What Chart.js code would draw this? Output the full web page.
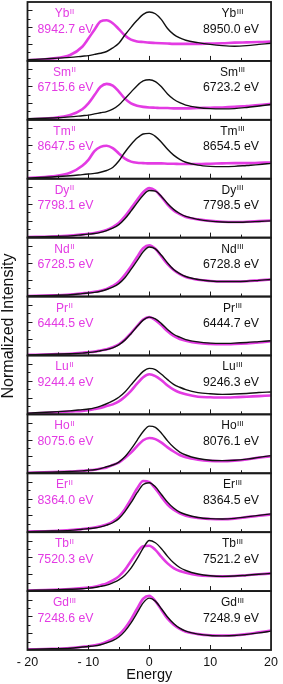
<!DOCTYPE html>
<html>
<head>
<meta charset="utf-8">
<script src="https://cdn.jsdelivr.net/npm/chart.js@4.4.1/dist/chart.umd.min.js"></script>
<style>
  html, body { margin: 0; padding: 0; background: #fff; }
  #wrap { width: 283px; height: 684px; }
</style>
</head>
<body>
<div id="wrap"><canvas id="xanesChart" width="283" height="684"></canvas></div>
<script>
// Energy grid (eV, relative to edge)
const energy = [-20, -16, -13, -11, -10, -9, -8, -7, -6, -5, -4, -3, -2, -1, 0, 1, 2, 3, 4, 5, 6, 8, 10, 12, 14, 16, 18, 20];

// Panels from top to bottom
const elements = ['Yb', 'Sm', 'Tm', 'Dy', 'Nd', 'Pr', 'Lu', 'Ho', 'Er', 'Tb', 'Gd'];
const chargeLeft = ['II', 'II', 'II', 'II', 'II', 'II', 'II', 'II', 'II', 'II', 'III'];
const edgeLeft = ['8942.7', '6715.6', '8647.5', '7798.1', '6728.5', '6444.5', '9244.4', '8075.6', '8364.0', '7520.3', '7248.6'];
const edgeRight = ['8950.0', '6723.2', '8654.5', '7798.5', '6728.8', '6444.7', '9246.3', '8076.1', '8364.5', '7521.2', '7248.9'];

// Normalized intensity (fraction of panel height), divalent (magenta) and trivalent (black)
const ybII  = [.01, .04, .10, .24, .38, .53, .67, .69, .64, .54, .43, .36, .33, .32, .31, .305, .30, .295, .29, .29, .29, .29, .295, .30, .31, .315, .32, .33];
const ybIII = [.02, .04, .06, .08, .09, .11, .13, .16, .22, .30, .44, .57, .69, .79, .83, .80, .70, .55, .45, .39, .35, .31, .28, .26, .25, .26, .28, .30];
const smII  = [.01, .03, .08, .18, .28, .42, .56, .61, .58, .48, .36, .28, .24, .22, .21, .205, .20, .20, .195, .195, .195, .20, .205, .21, .22, .235, .25, .27];
const smIII = [.02, .03, .05, .07, .08, .10, .12, .14, .18, .25, .36, .47, .58, .66, .68, .65, .56, .44, .35, .29, .25, .21, .19, .185, .19, .21, .235, .26];
const tmII  = [.01, .04, .10, .22, .32, .47, .54, .56, .52, .43, .34, .29, .27, .265, .26, .26, .26, .255, .255, .25, .25, .25, .255, .26, .265, .265, .27, .275];
const tmIII = [.01, .03, .05, .07, .08, .09, .11, .14, .19, .30, .45, .58, .69, .76, .77, .72, .62, .50, .40, .33, .28, .23, .21, .205, .21, .225, .24, .26];
const dyII  = [.01, .02, .035, .055, .065, .08, .10, .13, .18, .25, .36, .50, .64, .77, .84, .80, .69, .56, .46, .40, .35, .31, .285, .27, .265, .27, .28, .29];
const dyIII = [.01, .02, .03, .05, .06, .07, .09, .12, .16, .22, .32, .45, .59, .72, .80, .79, .70, .58, .48, .41, .36, .31, .28, .265, .26, .265, .275, .285];
const ndII  = [.01, .02, .035, .055, .065, .08, .10, .13, .18, .25, .37, .51, .67, .82, .87, .81, .68, .55, .45, .38, .33, .285, .265, .255, .255, .26, .275, .29];
const ndIII = [.01, .02, .03, .05, .06, .07, .09, .12, .16, .22, .32, .46, .61, .76, .84, .81, .70, .57, .46, .39, .34, .29, .265, .255, .255, .26, .275, .29];
const prII  = [.01, .02, .03, .045, .055, .065, .085, .105, .14, .19, .27, .38, .50, .61, .65, .60, .51, .41, .33, .28, .25, .21, .195, .19, .195, .205, .22, .24];
const prIII = [.01, .02, .03, .04, .05, .06, .08, .10, .13, .18, .26, .37, .49, .60, .65, .62, .54, .44, .36, .31, .27, .23, .21, .205, .21, .22, .235, .25];
const luII  = [.01, .03, .05, .06, .07, .09, .11, .14, .17, .22, .30, .40, .52, .63, .68, .65, .58, .49, .42, .37, .34, .30, .29, .285, .29, .30, .31, .32];
const luIII = [.02, .04, .06, .08, .09, .11, .14, .18, .23, .29, .38, .50, .62, .73, .78, .76, .68, .59, .51, .46, .42, .37, .35, .34, .345, .355, .37, .38];
const hoII  = [.01, .02, .03, .04, .05, .06, .08, .10, .14, .18, .26, .35, .46, .56, .60, .58, .52, .44, .37, .31, .27, .23, .21, .205, .215, .235, .265, .29];
const hoIII = [.01, .02, .03, .04, .05, .06, .08, .11, .14, .19, .28, .41, .56, .71, .80, .78, .68, .55, .44, .36, .31, .25, .22, .215, .22, .24, .27, .30];
const erII  = [.01, .02, .035, .055, .065, .08, .10, .13, .18, .26, .39, .56, .74, .87, .85, .74, .60, .47, .38, .32, .28, .24, .225, .22, .23, .255, .28, .30];
const erIII = [.01, .02, .03, .05, .06, .07, .09, .12, .16, .23, .35, .50, .67, .81, .84, .77, .64, .51, .41, .34, .30, .25, .23, .225, .235, .26, .285, .31];
const tbII  = [.01, .02, .035, .05, .06, .075, .10, .13, .18, .25, .36, .51, .66, .76, .77, .70, .58, .47, .39, .34, .31, .27, .255, .25, .255, .27, .285, .30];
const tbIII = [.01, .02, .03, .04, .05, .06, .08, .10, .14, .19, .27, .39, .55, .73, .86, .82, .72, .59, .48, .40, .35, .29, .26, .25, .255, .27, .285, .30];
const gdII  = [.01, .02, .035, .055, .065, .08, .10, .14, .19, .26, .37, .52, .70, .87, .92, .83, .68, .53, .43, .36, .31, .27, .25, .245, .25, .27, .30, .33];
const gdIII = [.01, .02, .03, .05, .06, .07, .09, .12, .16, .22, .32, .46, .63, .80, .88, .83, .70, .56, .45, .37, .32, .27, .245, .24, .245, .265, .29, .32];

const curvesII  = [ybII, smII, tmII, dyII, ndII, prII, luII, hoII, erII, tbII, gdII];
const curvesIII = [ybIII, smIII, tmIII, dyIII, ndIII, prIII, luIII, hoIII, erIII, tbIII, gdIII];

const MAGENTA = '#e33be3';
const BLACK = '#111111';
const FONT = '"Liberation Sans", Arial, sans-serif';

// Datasets: one pair of curves per panel, each panel has its own stacked y axis
const datasets = [];
const scales = {
    x: {
        type: 'linear',
        min: -20,
        max: 20,
        ticks: {
            stepSize: 10,
            padding: 5,
            color: '#111',
            font: { family: FONT, size: 12.5 },
            callback: v => (v < 0 ? '- ' + Math.abs(v) : String(v))
        },
        grid: { display: false, drawTicks: false },
        border: { display: false },
        title: {
            display: true,
            text: 'Energy',
            color: '#111',
            font: { family: FONT, size: 14.5 },
            padding: { top: 0, bottom: 0 }
        },
        afterFit: s => { s.height = 34; }
    }
};

elements.forEach((el, i) => {
    const axisId = 'y' + i;
    datasets.push({
        label: el + 'III',
        data: energy.map((x, j) => ({ x: x, y: curvesIII[i][j] })),
        yAxisID: axisId,
        borderColor: BLACK,
        borderWidth: 1.4,
        order: 0
    });
    datasets.push({
        label: el + chargeLeft[i],
        data: energy.map((x, j) => ({ x: x, y: curvesII[i][j] })),
        yAxisID: axisId,
        borderColor: MAGENTA,
        borderWidth: 2.6,
        order: 1
    });
    scales[axisId] = {
        type: 'linear',
        position: 'left',
        stack: 'panels',
        stackWeight: 1,
        weight: elements.length - i, // top panel first
        min: 0,
        max: 1,
        ticks: { display: false },
        grid: { display: false, drawTicks: false },
        border: { display: false },
        afterFit: s => { s.width = 0; }
    };
});

// Frames, inward ticks and labels for each panel
const panelDecor = {
    id: 'panelDecor',
    afterDatasetsDraw(chart) {
        const ctx = chart.ctx;
        const area = chart.chartArea;
        const xs = chart.scales.x;
        ctx.save();

        elements.forEach((el, i) => {
            const ys = chart.scales['y' + i];
            const top = ys.top;
            const bottom = ys.bottom;

            // tick marks
            ctx.strokeStyle = '#1a1a1a';
            ctx.lineWidth = 1;
            ctx.beginPath();
            for (let v = -15; v <= 15; v += 5) {
                const px = Math.round(xs.getPixelForValue(v)) + 0.5;
                const len = (v % 10 === 0) ? 5 : 3;
                ctx.moveTo(px, bottom);
                ctx.lineTo(px, bottom - len);
            }
            for (let k = 1; k <= 6; k++) {
                const py = Math.round(ys.getPixelForValue(k / 7)) + 0.5;
                const len = (k % 2 === 0) ? 5 : 3;
                ctx.moveTo(area.left, py);
                ctx.lineTo(area.left + len, py);
            }
            ctx.stroke();

            // panel frame
            ctx.lineWidth = 1.8;
            ctx.strokeRect(area.left, top, area.right - area.left, bottom - top);

            // labels
            drawElement(ctx, 64.5, top + 15, el, chargeLeft[i], MAGENTA);
            drawElement(ctx, 232.5, top + 15, el, 'III', BLACK);
            ctx.font = '12.3px ' + FONT;
            ctx.textAlign = 'center';
            ctx.textBaseline = 'alphabetic';
            ctx.fillStyle = MAGENTA;
            ctx.fillText(edgeLeft[i] + ' eV', 65.5, top + 30.5);
            ctx.fillStyle = BLACK;
            ctx.fillText(edgeRight[i] + ' eV', 231, top + 30.5);
        });

        // y axis title
        ctx.translate(9, (area.top + area.bottom) / 2);
        ctx.rotate(-Math.PI / 2);
        ctx.font = '16px ' + FONT;
        ctx.fillStyle = '#111';
        ctx.textAlign = 'center';
        ctx.textBaseline = 'middle';
        ctx.fillText('Normalized Intensity', 0, 0);
        ctx.restore();
    }
};

function drawElement(ctx, cx, baseline, el, sup, color) {
    ctx.font = '12px ' + FONT;
    const w1 = ctx.measureText(el).width;
    ctx.font = '8px ' + FONT;
    const w2 = ctx.measureText(sup).width;
    const start = cx - (w1 + w2 + 0.5) / 2;
    ctx.fillStyle = color;
    ctx.textAlign = 'left';
    ctx.textBaseline = 'alphabetic';
    ctx.font = '12px ' + FONT;
    ctx.fillText(el, start, baseline);
    ctx.font = '8px ' + FONT;
    ctx.fillText(sup, start + w1 + 0.5, baseline - 3.5);
}

new Chart(document.getElementById('xanesChart'), {
    type: 'line',
    data: { datasets: datasets },
    options: {
        responsive: false,
        animation: false,
        elements: {
            point: { radius: 0 },
            line: { cubicInterpolationMode: 'monotone', fill: false }
        },
        layout: { padding: { left: 27.5, right: 7, top: 2, bottom: 0 } },
        plugins: {
            legend: { display: false },
            tooltip: { enabled: false }
        },
        scales: scales
    },
    plugins: [panelDecor]
});
</script>
</body>
</html>
